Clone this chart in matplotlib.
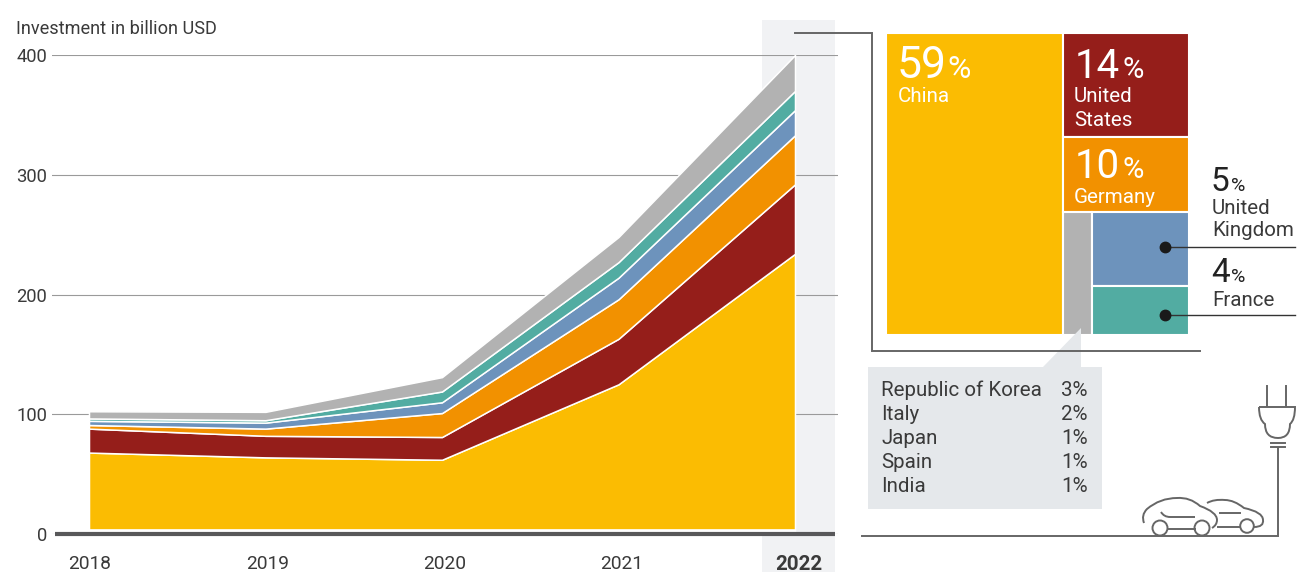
import matplotlib
matplotlib.use("Agg")
import matplotlib.pyplot as plt
from matplotlib.patches import Rectangle, Polygon, Circle, PathPatch
from matplotlib.path import Path
from matplotlib.transforms import ScaledTranslation

plt.rcParams['font.family'] = ['Roboto', 'DejaVu Sans']

W, H = 1298, 572

# 图表数据
years = [2018, 2019, 2020, 2021, 2022]
china = [68, 64, 62, 125, 234]
usa = [20, 18, 19, 38, 58]
germany = [3, 6, 20, 33, 41]
uk = [3.5, 5, 9, 18, 21]
france = [2, 2, 9, 13, 16]
others = [6, 7, 12, 21, 30]
yticks = [0, 100, 200, 300, 400]

# 2022 shares
share_china = 59
share_usa = 14
share_germany = 10
share_rest = 16.5     # block height as drawn, the listed shares add up to a bit more
share_total = 101     # the picture's blocks are a little wider than their shares
other_width = 23      # share of the small block's width
uk_height = 60        # the same, uk against france
other_names = ["Republic of Korea", "Italy", "Japan", "Spain", "India"]
other_shares = ["3%", "2%", "1%", "1%", "1%"]

yellow = "#fbbc02"
red = "#951e1a"
orange = "#f29100"
blue = "#6d93bc"
teal = "#52aca2"
grey = "#b2b2b2"
dark = "#3a3a3a"
line = "#666666"


def axes_px(x0, y0, x1, y1, z):
    return fig.add_axes([x0 / W, 1 - y1 / H, (x1 - x0) / W, (y1 - y0) / H], zorder=z)


fig = plt.figure(figsize=(W / 100, H / 100), dpi=100)

# pixel layers under and over the chart
bg = axes_px(0, 0, W, H, 0)
fg = axes_px(0, 0, W, H, 3)
for a in (bg, fg):
    a.set_xlim(0, W)
    a.set_ylim(H, 0)
    a.axis("off")
fg.patch.set_alpha(0)

bg.add_patch(Rectangle((762, 20), 73, 552, color="#f1f2f4", lw=0))

# 面积图
ax = axes_px(52, 55, 838, 534, 1)
ax.patch.set_alpha(0)
per_year = 176.5
ax.set_xlim(2018 - (89 - 52) / per_year, 2018 + (838 - 89) / per_year)
ax.set_ylim(0, 400)
ax.stackplot(years, china, usa, germany, uk, france, others,
             colors=[yellow, red, orange, blue, teal, grey],
             edgecolor="white", linewidth=1.1, zorder=2)
ax.hlines(0, 2018, 2022, color="white", lw=7, zorder=3)
ax.set_yticks(yticks)
ax.set_xticks(years)
ax.set_xticklabels(years)
ax.grid(axis="y", color="#9a9a9a", lw=0.8, zorder=1)
ax.grid(axis="x", visible=False)
ax.tick_params(axis="y", length=0, pad=3.5, labelsize=13.2, labelcolor=dark)
ax.tick_params(axis="x", length=0, pad=15, labelsize=13.8, labelcolor=dark)
# 年份标签比数据点略微偏右
for i, lab in enumerate(ax.get_xticklabels()):
    dx = (1 + i * 0.75) / 100
    lab.set_transform(lab.get_transform() + ScaledTranslation(dx, 0, fig.dpi_scale_trans))
last = ax.get_xticklabels()[-1]
last.set_fontweight("bold")
last.set_fontsize(14.8)
for s in ax.spines.values():
    s.set_visible(False)

fg.plot([55, 835], [534, 534], color="#58585a", lw=3, solid_capstyle="butt")
fg.text(16, 34, "Investment in billion USD", fontsize=13.1, color=dark, va="baseline")

# treemap
tm = axes_px(886, 33, 1189, 335, 2)
tm.set_xlim(0, share_total)
tm.set_ylim(100, 0)
tm.axis("off")
right = share_total - share_china
total = share_usa + share_germany + share_rest
h_usa = 100 * share_usa / total
h_ger = 100 * share_germany / total
h_rest = 100 * share_rest / total
top_rest = h_usa + h_ger
w_other = right * other_width / 100
h_uk = h_rest * uk_height / 100
blocks = [
    (0, 0, share_china, 100, yellow),
    (share_china, 0, right, h_usa, red),
    (share_china, h_usa, right, h_ger, orange),
    (share_china, top_rest, w_other, h_rest, grey),
    (share_china + w_other, top_rest, right - w_other, h_uk, blue),
    (share_china + w_other, top_rest + h_uk, right - w_other, h_rest - h_uk, teal),
]
for x, y, w, h, c in blocks:
    tm.add_patch(Rectangle((x, y), w, h, facecolor=c, edgecolor="white", lw=1.5))

# 连接线
fg.plot([795, 872, 872, 1200], [33, 33, 351, 351], color=line, lw=1.4, solid_joinstyle="miter")
fg.plot([1165, 1295], [247, 247], color="#333333", lw=1)
fg.plot([1165, 1295], [315, 315], color="#333333", lw=1)
fg.plot([1165, 1165], [247, 315], ls="none", marker="o", ms=7.5, color="#1a1a1a")

# callout
fg.add_patch(Polygon([(868, 367), (1043, 367), (1081, 328), (1081, 367), (1102, 367), (1102, 509), (868, 509)],
                     color="#e5e8eb", lw=0))
for i in range(5):
    fg.text(881, 396 + i * 24, other_names[i], fontsize=14.8, color=dark, va="baseline")
    fg.text(1088, 396 + i * 24, other_shares[i], fontsize=14.8, color=dark, va="baseline", ha="right")

# labels in the blocks
fg.text(897, 78, "59", fontsize=32, color="white", va="baseline")
fg.text(947, 78, "%", fontsize=23, color="white", va="baseline")
fg.text(898, 102, "China", fontsize=14.8, color="white", va="baseline")
fg.text(1075, 78, "14", fontsize=29, color="white", va="baseline")
fg.text(1122, 78, "%", fontsize=21, color="white", va="baseline")
fg.text(1074, 102, "United", fontsize=14.8, color="white", va="baseline")
fg.text(1074, 126, "States", fontsize=14.8, color="white", va="baseline")
fg.text(1075, 178, "10", fontsize=29, color="white", va="baseline")
fg.text(1122, 178, "%", fontsize=21, color="white", va="baseline")
fg.text(1074, 203, "Germany", fontsize=14.8, color="white", va="baseline")
fg.text(1211, 191, "5", fontsize=24, color="#222222", va="baseline")
fg.text(1231, 191, "%", fontsize=14, color="#222222", va="baseline")
fg.text(1212, 214, "United", fontsize=14.8, color=dark, va="baseline")
fg.text(1212, 236, "Kingdom", fontsize=14.8, color=dark, va="baseline")
fg.text(1211, 282, "4", fontsize=24, color="#222222", va="baseline")
fg.text(1231, 282, "%", fontsize=14, color="#222222", va="baseline")
fg.text(1212, 306, "France", fontsize=14.8, color=dark, va="baseline")

# 插头和汽车
icon = dict(color=line, lw=1.4)
fg.plot([862, 1278, 1278], [536, 536, 448], solid_joinstyle="miter", **icon)
fg.plot([1267, 1267], [386, 406], **icon)
fg.plot([1286, 1286], [386, 406], **icon)
fg.plot([1271, 1285], [443, 443], **icon)
fg.plot([1271, 1285], [447, 447], **icon)


def curve(points):
    codes = [Path.MOVETO] + [Path.CURVE3] * (len(points) - 1)
    fg.add_patch(PathPatch(Path(points, codes), fill=False, edgecolor=line, lw=1.4))


curve([(1259, 407), (1295, 407), (1295, 407), (1295, 420), (1290, 424), (1290, 438), (1278, 438),
       (1265, 438), (1265, 424), (1259, 420), (1259, 407)])
# front car
curve([(1144, 523), (1141, 515), (1147, 509), (1160, 498), (1177, 498), (1190, 497), (1200, 506),
       (1217, 512), (1217, 520), (1217, 525), (1212, 528)])
curve([(1161, 512), (1164, 517), (1170, 517), (1185, 517), (1195, 517)])
fg.plot([1168, 1195], [529, 529], **icon)
fg.add_patch(Circle((1160, 528), 7.5, fill=False, edgecolor=line, lw=1.4))
fg.add_patch(Circle((1202, 528), 7.5, fill=False, edgecolor=line, lw=1.4))
# rear car
curve([(1207, 503), (1214, 499), (1225, 500), (1234, 500), (1244, 508), (1263, 512), (1263, 520),
       (1264, 527), (1254, 527)])
fg.plot([1220, 1240], [513, 513], **icon)
fg.plot([1218, 1239], [527, 527], **icon)
fg.add_patch(Circle((1247, 526), 6.8, fill=False, edgecolor=line, lw=1.4))

fig.savefig("out.png", dpi=100)
